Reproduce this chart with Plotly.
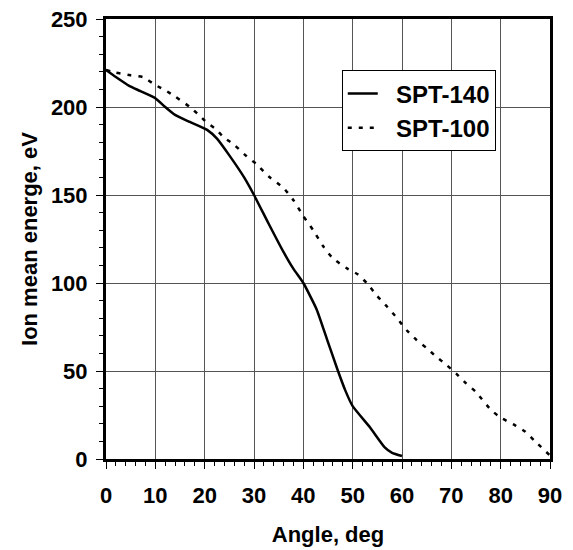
import plotly.graph_objects as go

# SPT-140 (solid)
spt140_angle = [0, 2, 4.7, 7, 10, 12, 14, 17, 20.5, 22.5, 25, 28, 30, 33, 36, 38, 40,
                42.7, 44.8, 46.9, 48.5, 50, 53.5, 56.5, 58, 60]
spt140_energy = [221, 217, 212, 209, 205, 200, 195.5, 191.5, 187, 182, 172.5, 160, 150,
                 133.5, 117.5, 108, 100, 85, 68, 51, 39, 30, 18, 6.6, 3.5, 1.7]

# SPT-100 (dashed)
spt100_angle = [0, 2, 5, 7.5, 10, 12, 14, 17, 19, 20.5, 22, 24, 26, 28.5, 30.5, 33, 36,
                38, 40, 42, 44, 46, 49, 51, 53, 55, 57, 59, 61, 63, 65, 67, 69, 71, 73,
                75, 78, 80, 83, 85, 87, 90]
spt100_energy = [221, 219.5, 218, 217, 212.5, 209.5, 206, 200, 195, 191, 188, 182.5,
                 178.5, 172, 167.5, 160.5, 154, 147, 138, 130, 121, 114, 108, 105, 99.5,
                 92.5, 86.5, 80, 73, 67.5, 63, 58, 53.5, 48.5, 43, 38, 28, 23.5, 19,
                 15.5, 10, 2]

x_ticks = [0, 10, 20, 30, 40, 50, 60, 70, 80, 90]
y_ticks = [0, 50, 100, 150, 200, 250]

FONT = "Liberation Sans, Arial, sans-serif"
PAD = "\u00a0\u00a0"

fig = go.Figure()
fig.add_trace(go.Scatter(x=spt140_angle, y=spt140_energy, mode="lines", name=PAD + "<b>SPT-140</b>",
                         line=dict(color="black", width=2.5, shape="spline", smoothing=0.5)))
fig.add_trace(go.Scatter(x=spt100_angle, y=spt100_energy, mode="lines", name=PAD + "<b>SPT-100</b>",
                         line=dict(color="black", width=2.5, dash="4px,7px", shape="spline", smoothing=0.5)))

axis_common = dict(showline=True, linecolor="black", linewidth=3, mirror=True,
                   showgrid=True, gridcolor="#555555", gridwidth=1, zeroline=False,
                   ticks="outside", ticklen=7, tickwidth=1, tickcolor="black", automargin=False,
                   tickfont=dict(family=FONT, size=22, color="black", weight="bold"))

fig.update_xaxes(range=[0, 90], tickvals=x_ticks, ticklabelstandoff=8,
                 minor=dict(dtick=2, ticks="outside", ticklen=4, tickcolor="black", showgrid=False),
                 title=dict(text="<b>Angle, deg</b>", font=dict(family=FONT, size=22, color="black"), standoff=20),
                 **axis_common)
fig.update_yaxes(range=[0, 250], tickvals=y_ticks, ticklabelstandoff=4,
                 minor=dict(dtick=10, ticks="outside", ticklen=4, tickcolor="black", showgrid=False),
                 title=dict(text="<b>Ion mean energe, eV</b>", font=dict(family=FONT, size=22, color="black"), standoff=8),
                 **axis_common)

fig.update_layout(width=573, height=550, plot_bgcolor="white", paper_bgcolor="white",
                  margin=dict(l=106, r=23, t=19, b=91),
                  legend=dict(x=0.531, y=0.883, xanchor="left", yanchor="top",
                              bgcolor="white", bordercolor="black", borderwidth=1,
                              font=dict(family=FONT, size=24, color="black")),
                  showlegend=True)

fig.write_html("out.html")
